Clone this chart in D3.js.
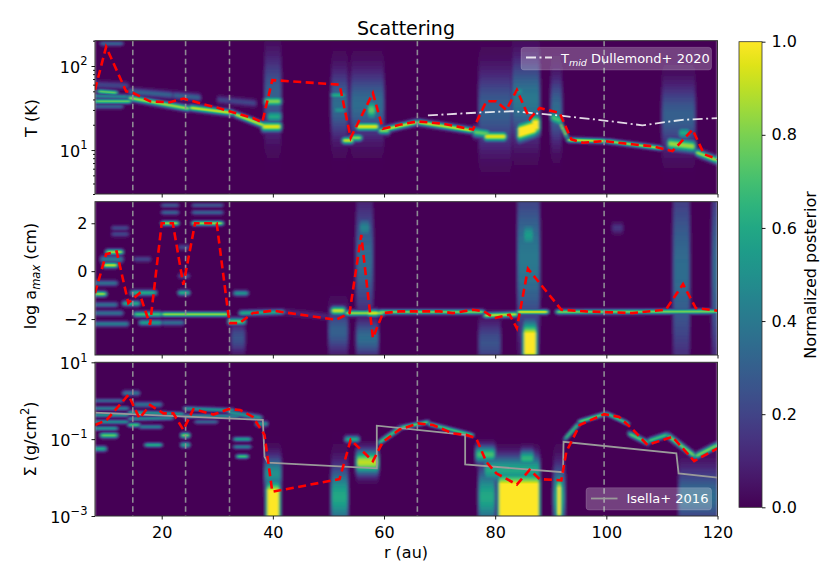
<!DOCTYPE html>
<html><head><meta charset="utf-8">
<script src="https://cdn.jsdelivr.net/npm/d3@7"></script>
<style>body{margin:0;background:#fff}svg{display:block}text{font-family:"DejaVu Sans",sans-serif;fill:#000}</style>
</head><body><svg id="c" width="830" height="581"></svg>
<script>
// ---------------- data ----------------
const xTicks = [20, 40, 60, 80, 100, 120];
const gapR = [14.8, 24.3, 32.2, 66, 99.6];               // vertical dashed lines (au)
const cbTicks = [0, 0.2, 0.4, 0.6, 0.8, 1.0];

// best-fit (red dashed) profiles
const tR = [8,10,13.6,14.8,17.9,21.5,23.9,26.9,29.9,32.9,36.4,38.1,39.9,52,54,58,59.8,62.8,66,70.6,76,78.4,80.2,82,83.9,86.2,88,91.6,93.7,95.8,99.6,104.7,108.3,111.9,115.5,117.6,120];
const tVal = [52,169,50,48,38,37,41,36,32,28,24,21.4,68,60,14,47.6,17.9,20,21.9,20.6,17.5,38,38,30,52,23.5,31.6,27.6,13.4,12.2,12.8,11.7,11.1,9.7,17.5,8.9,7.8];
const aR = [8,10,11.9,14,16,17.9,20,22,23.9,26,29.9,32,32.3,34,36.4,40,51.4,53.8,55.9,58,59.8,62.8,70,72.4,76,78,79.9,82.6,83.9,85.9,91.9,96.4,104.7,110.7,113.8,116.1,120];
const aVal = [-0.92,0.71,0.82,-1.33,-0.92,-2.24,2.0,2.0,-0.57,2.0,2.0,-1.82,-2.17,-2.17,-1.75,-1.65,-2.03,-1.75,1.51,-2.79,-1.75,-1.68,-1.68,-1.75,-1.61,-1.68,-1.96,-1.82,-2.38,0.1,-1.61,-1.68,-1.75,-1.61,-0.54,-1.54,-1.65];
const sR = [8,10.1,14,16,17.9,20.3,22.1,23.9,25.7,29.3,32,34.1,36.4,38.5,39.9,52,54,58,59.8,62.8,66.1,68.8,72.4,74.8,76.6,78.4,80.2,83.9,86.2,88,91.9,92.8,95.2,99.6,102.3,104.7,107.4,111.9,115.8,120];
const sVal = [0.233,0.316,1.41,0.347,0.776,0.468,0.468,0.174,0.603,0.437,0.603,0.575,0.380,0.129,0.00427,0.00912,0.0955,0.0269,0.0851,0.178,0.257,0.234,0.141,0.129,0.105,0.0257,0.0129,0.0066,0.0158,0.00912,0.00851,0.0468,0.234,0.447,0.380,0.182,0.0708,0.115,0.0269,0.0575];

// reference models
const dullR = [67.9,77.4,83.2,91.6,99.3,106.5,113.7,120];
const dullT = [25.9,28,29,25.7,22.6,19.7,22.9,24];
const isR = [8,38.2,38.5,39.1,58.7,58.7,74.6,74.6,92.2,92.3,112.6,113,120];
const isS = [0.49,0.316,0.0347,0.0245,0.0174,0.224,0.129,0.0219,0.0138,0.0851,0.0427,0.0129,0.01];

// posterior ridges: [r0, r1, centre0, centre1, spread, peak]  (peak > 1 = saturated plateau)
// T: centre in K, spread in dex
const tBlobs = [
 [8,14.5,38,38,0.02,0.75],[8.5,12,50,48,0.02,0.75],[8,14,44,43,0.02,0.45],[8,13,33,33,0.02,0.3],
 [9,13,185,185,0.02,0.3],[8,14,60,58,0.03,0.2],
 [14,25,42,31,0.025,0.85],[25,33,32,27.5,0.025,0.9],[33,38.5,27,19.5,0.025,0.9],
 [14,22,50,45,0.03,0.3],[22,27,45,42,0.03,0.3],[30,37,40,36,0.03,0.2],
 [38.5,41.5,45,45,0.3,0.3],[38.5,41.5,38,38,0.04,0.8],[38,41.5,19,19,0.04,0.95],[39,41.5,25,25,0.05,0.6],
 [50.5,53.5,35,35,0.25,0.35],[50.5,53,45,45,0.03,0.6],[51,53,30,30,0.04,0.5],[52.5,54.5,13,13,0.03,0.9],
 [54,60,35,35,0.25,0.35],[55,59,19,19,0.035,0.95],[57,58.5,30,30,0.08,0.75],[54,56,14,14,0.03,0.8],[59,61,17,17,0.03,0.8],
 [60,66,17.5,21.5,0.025,0.9],[66,76,21.5,17,0.025,0.9],
 [77,83,30,30,0.3,0.3],[78,82,14.5,14.5,0.04,0.95],[76,79,16.5,15.5,0.04,0.75],
 [83,88,40,40,0.3,0.4],[84,87.5,16,19,0.07,1.2],[86.5,88,20,20,0.08,1.1],[83.5,85,50,50,0.05,0.5],
 [90,92,30,30,0.25,0.35],[90,92,25,22,0.05,0.7],[91.5,93,22,14,0.03,0.9],
 [93,100,13.2,12.8,0.02,0.9],[100,110,12.8,10.5,0.02,0.85],
 [110,116,25,25,0.25,0.3],[111,116,12,11,0.05,0.85],[113,115,16,16,0.05,0.6],[116,120,9.5,7.5,0.03,0.85]
];
// log a_max: centre and spread in log10(cm)
const aBlobs = [
 [8,10,-0.95,-0.95,0.08,0.85],[9.5,12,0.25,0.25,0.08,0.9],[10,13,0.8,0.8,0.08,0.85],[9,13,0.5,0.5,0.1,0.4],
 [8,12,-0.5,-0.5,0.08,0.35],[8,12,-1.4,-1.4,0.08,0.35],[8,13,-1.75,-1.75,0.08,0.35],[8,14,-2.2,-2.2,0.08,0.4],
 [13,16,-1.35,-1.35,0.08,0.6],[11,14,1.8,1.8,0.08,0.2],[11,14,1.55,1.55,0.08,0.2],
 [14.5,19,-0.9,-0.9,0.08,0.6],[15,20,-1.8,-1.8,0.08,0.7],[16,20,-2.15,-2.15,0.08,0.55],[15,18,0.5,0.5,0.08,0.2],
 [20,23,2.0,2.0,0.07,0.85],[20,23,2.45,2.45,0.07,0.3],[20,23,2.75,2.75,0.07,0.25],
 [23,25,-0.9,-0.9,0.08,0.6],[23,25,-0.2,-0.2,0.08,0.2],[23,25,1.0,1.0,0.08,0.2],
 [20,32,-1.8,-1.8,0.07,0.85],[25.5,31,2.0,2.0,0.07,0.85],[25.5,31,2.45,2.45,0.07,0.3],[25.5,31,2.75,2.75,0.07,0.25],
 [20,24,-2.15,-2.15,0.08,0.35],[32,35,-2.1,-2.1,0.1,0.75],[33,35.5,-0.92,-0.92,0.08,0.5],[34,42,-1.75,-1.7,0.08,0.6],
 [32.5,35,-2.8,-2.8,0.4,0.25],[42,50,-1.7,-1.9,0.1,0.1],
 [50.5,53,-1.65,-1.65,0.12,0.9],[50,53.5,-2.5,-2.5,0.6,0.3],[53,60,-1.75,-1.75,0.08,0.85],
 [55,58,0.5,0.5,1.5,0.35],[55.5,57.5,1.8,1.8,0.3,0.45],[55,59,-2.8,-2.8,0.5,0.35],[57,59,-1.75,-1.75,0.1,0.95],
 [59,78,-1.7,-1.7,0.07,0.8],[78,84,-1.85,-1.8,0.08,0.9],[84,89.5,-1.7,-1.7,0.07,0.95],[91,120,-1.7,-1.68,0.07,0.8],
 [77,81,-3,-3,0.6,0.25],[84,88,0.5,0.5,2.0,0.4],[85,87,1.5,1.5,0.4,0.55],[85,87.5,-3.0,-3.0,0.55,1.3],
 [112,115,0,0,2.5,0.35],[119,120,0,0,2.5,0.35],[101,103,1.8,1.8,0.15,0.15]
];
// Sigma: centre in log10(g/cm^2), spread in dex
const sBlobs = [
 [8,10,-1.25,-1.25,0.05,0.6],[9,12,-0.9,-0.9,0.05,0.75],[8,12,-0.72,-0.72,0.04,0.5],[8,13,0,0,0.04,0.3],
 [8,14,-0.2,-0.2,0.04,0.4],[8,14,-0.37,-0.37,0.04,0.5],[8,14,-0.55,-0.55,0.04,0.45],[13,16,0.2,0.2,0.05,0.35],
 [14,16,-0.63,-0.63,0.04,0.7],[17,20,-1.15,-1.15,0.04,0.6],[14,24,-0.3,-0.35,0.04,0.5],[14,22,-0.47,-0.45,0.04,0.45],
 [15,20,-0.1,-0.1,0.05,0.35],[16,20,-0.68,-0.68,0.04,0.4],[23.5,25,-0.9,-0.9,0.05,0.8],[23.5,25,-1.15,-1.15,0.05,0.6],
 [24,33,-0.2,-0.25,0.04,0.5],[24,34,-0.4,-0.4,0.04,0.45],[26,30,-0.55,-0.55,0.04,0.3],[32,38,-0.3,-0.45,0.05,0.5],
 [37,39,-0.6,-0.6,0.05,0.5],[33,36,-1.0,-1.0,0.04,0.55],[33,36,-1.2,-1.2,0.04,0.4],[33.5,35.5,-1.45,-1.45,0.04,0.7],
 [38.8,41.3,-2.65,-2.65,0.35,1.5],[38.5,41.5,-1.9,-1.9,0.3,0.5],
 [50.5,53.5,-2.5,-2.5,0.5,0.6],[53,55.5,-1.0,-1.0,0.06,0.6],[55,59,-1.6,-1.6,0.2,0.9],
 [59,63,-1.1,-0.7,0.05,0.7],[63,68,-0.7,-0.55,0.04,0.75],[68,76,-0.6,-0.9,0.04,0.7],
 [76.5,80,-1.4,-1.4,0.15,0.7],[77,80,-2.5,-2.5,0.5,0.6],
 [80.5,88,-2.6,-2.6,0.45,1.6],[78,88,-1.8,-1.8,0.25,0.6],[84.5,87,-1.5,-1.5,0.15,0.65],
 [90.5,92.5,-2.5,-2.5,0.5,0.6],[91,92,-2.6,-2.6,0.4,1.4],
 [92.5,95,-1.0,-0.6,0.05,0.7],[95,100,-0.55,-0.33,0.04,0.75],[100,104,-0.33,-0.6,0.04,0.7],
 [104,107.5,-0.85,-1.1,0.05,0.75],[107.5,111,-1.05,-0.88,0.05,0.7],[111,116,-0.9,-1.45,0.06,0.8],
 [116,120,-1.45,-1.15,0.06,0.8],[113,120,-2.5,-2.5,0.5,0.35]
];

// ---------------- drawing ----------------
const svg = d3.select("#c");
const X0 = 95, X1 = 717.5;
const x = d3.scaleLinear([8, 120], [X0, X1]);
const lut = d3.range(256).map(i => d3.rgb(d3.interpolateViridis(i / 255)));

const panels = [
  {top: 40.7, bot: 194, y: d3.scaleLog([3, 200], [194, 40.7]), lo: Math.log10(3), hi: Math.log10(200), blobs: tBlobs, conv: v => Math.log10(v)},
  {top: 201.7, bot: 355, y: d3.scaleLinear([-3.5, 2.9], [355, 201.7]), lo: -3.5, hi: 2.9, blobs: aBlobs, conv: v => v},
  {top: 362.3, bot: 516, y: d3.scaleLog([1e-3, 10], [516, 362.3]), lo: -3, hi: 1, blobs: sBlobs, conv: v => v}
];

const clamp01 = v => Math.max(0, Math.min(1, v));
function heatURL(p) {
  const nx = 448, ny = 170, e = 0.7;
  const cv = document.createElement("canvas"); cv.width = nx; cv.height = ny;
  const ctx = cv.getContext("2d"); const img = ctx.createImageData(nx, ny);
  const bl = p.blobs.map(b => [b[0], b[1], p.conv(b[2]), p.conv(b[3]), b[4], b[5]]);
  for (let i = 0; i < nx; i++) {
    const r = 8 + (i + 0.5) * 112 / nx;
    for (let j = 0; j < ny; j++) {
      const v = p.hi - (j + 0.5) * (p.hi - p.lo) / ny;
      let m = 0;
      for (const b of bl) {
        if (r < b[0] - e / 2 || r > b[1] + e / 2) continue;
        const w = clamp01((r - b[0]) / e + 0.5) * clamp01((b[1] - r) / e + 0.5);
        const t = clamp01((r - b[0]) / (b[1] - b[0]));
        const c = b[2] * (1 - t) + b[3] * t;
        const z = (v - c) / b[4];
        const val = w * Math.min(1, b[5] * Math.exp(-0.5 * z * z));
        if (val > m) m = val;
      }
      const col = lut[Math.round(Math.min(1, m) * 255)];
      const k = 4 * (j * nx + i);
      img.data[k] = col.r; img.data[k + 1] = col.g; img.data[k + 2] = col.b; img.data[k + 3] = 255;
    }
  }
  ctx.putImageData(img, 0, 0);
  return cv.toDataURL();
}

const defs = svg.append("defs");
const flt = defs.append("filter").attr("id", "soft").attr("x", 0).attr("y", 0).attr("width", 1).attr("height", 1);
flt.append("feGaussianBlur").attr("stdDeviation", "0.9 0.5").attr("edgeMode", "duplicate");

panels.forEach((p, i) => {
  defs.append("clipPath").attr("id", "clip" + i).append("rect")
    .attr("x", X0).attr("y", p.top).attr("width", X1 - X0).attr("height", p.bot - p.top);
  svg.append("image").attr("href", heatURL(p)).attr("x", X0).attr("y", p.top)
    .attr("width", X1 - X0).attr("height", p.bot - p.top).attr("preserveAspectRatio", "none")
    .attr("filter", "url(#soft)");
  const g = svg.append("g").attr("clip-path", `url(#clip${i})`);
  g.selectAll("line.gap").data(gapR).join("line")
    .attr("x1", d => x(d)).attr("x2", d => x(d)).attr("y1", p.top).attr("y2", p.bot)
    .attr("stroke", "#8e8a94").attr("stroke-width", 1.6).attr("stroke-dasharray", "5.5,3.5");
  p.g = g;
});

const line = (y) => d3.line().x(d => x(d[0])).y(d => y(d[1]));

// reference models
panels[0].g.append("path").datum(d3.zip(dullR, dullT)).attr("d", line(panels[0].y))
  .attr("fill", "none").attr("stroke", "#ffffff").attr("stroke-opacity", 0.85).attr("stroke-width", 1.8)
  .attr("stroke-dasharray", "10,3.5,2,3.5");
panels[2].g.append("path").datum(d3.zip(isR, isS)).attr("d", line(panels[2].y))
  .attr("fill", "none").attr("stroke", "#9a9a9a").attr("stroke-width", 1.8);

// best fit profiles
[[tR, tVal], [aR, aVal], [sR, sVal]].forEach((s, i) => {
  panels[i].g.append("path").datum(d3.zip(s[0], s[1])).attr("d", line(panels[i].y))
    .attr("fill", "none").attr("stroke", "#ff0000").attr("stroke-width", 2.6).attr("stroke-dasharray", "8,4.5");
});

// frames + x axes
panels.forEach((p, i) => {
  svg.append("rect").attr("x", X0).attr("y", p.top).attr("width", X1 - X0).attr("height", p.bot - p.top)
    .attr("fill", "none").attr("stroke", "#333").attr("stroke-width", 1);
  const ax = svg.append("g").attr("transform", `translate(0,${p.bot})`)
    .call(d3.axisBottom(x).tickValues(xTicks).tickSize(3.5).tickPadding(7)
      .tickFormat(i === 2 ? d3.format("d") : () => ""));
  ax.select(".domain").remove();
  ax.attr("font-family", "DejaVu Sans").attr("font-size", 16);
  ax.selectAll("line").attr("stroke", "#000").attr("stroke-width", 0.9);
});

function leftAxis(p, vals, size) {
  const ax = svg.append("g").attr("transform", `translate(${X0},0)`)
    .call(d3.axisLeft(p.y).tickValues(vals).tickSize(size).tickFormat(() => ""));
  ax.select(".domain").remove();
  ax.selectAll("line").attr("stroke", "#000").attr("stroke-width", 0.9);
  return ax;
}
function powLabel(yv, exp) {
  const t = svg.append("text").attr("x", 87.5).attr("y", yv).attr("dy", "0.42em")
    .attr("text-anchor", "end").attr("font-size", 16);
  t.append("tspan").text("10");
  t.append("tspan").attr("dy", -7.5).attr("font-size", 11.5).text(exp);
}
// T axis
leftAxis(panels[0], [10, 100], 3.5);
leftAxis(panels[0], [3,4,5,6,7,8,9,20,30,40,50,60,70,80,90,200], 2);
powLabel(panels[0].y(10), "1"); powLabel(panels[0].y(100), "2");
// a_max axis
const aTicks = [-2, 0, 2];
leftAxis(panels[1], aTicks, 3.5);
aTicks.forEach(v => svg.append("text").attr("x", 87.5).attr("y", panels[1].y(v)).attr("dy", "0.36em")
  .attr("text-anchor", "end").attr("font-size", 16).text(d3.format("d")(v).replace("-", "\u2212")));
// Sigma axis
const sTicks = [1e-3, 1e-1, 10];
leftAxis(panels[2], sTicks, 3.5);
powLabel(panels[2].y(1e-3), "\u22123"); powLabel(panels[2].y(1e-1), "\u22121"); powLabel(panels[2].y(10), "1");

// axis labels
svg.append("text").attr("transform", "translate(37,118) rotate(-90)").attr("text-anchor", "middle")
  .attr("font-size", 16).text("T (K)");
{
  const t = svg.append("text").attr("transform", "translate(36,276) rotate(-90)").attr("text-anchor", "middle").attr("font-size", 16);
  t.append("tspan").text("log a");
  t.append("tspan").attr("dy", 4).attr("font-size", 11.5).attr("font-style", "italic").text("max");
  t.append("tspan").attr("dy", -4).text(" (cm)");
}
{
  const t = svg.append("text").attr("transform", "translate(36,439) rotate(-90)").attr("text-anchor", "middle").attr("font-size", 16);
  t.append("tspan").text("\u03A3 (g/cm");
  t.append("tspan").attr("dy", -7).attr("font-size", 11.5).text("2");
  t.append("tspan").attr("dy", 7).text(")");
}
svg.append("text").attr("x", 406).attr("y", 558).attr("text-anchor", "middle").attr("font-size", 16).text("r (au)");
svg.append("text").attr("x", 406).attr("y", 35).attr("text-anchor", "middle").attr("font-size", 19).text("Scattering");

// legends
{
  svg.append("rect").attr("x", 521).attr("y", 47.3).attr("width", 190.5).attr("height", 22.7).attr("rx", 3)
    .attr("fill", "#fff").attr("fill-opacity", 0.25).attr("stroke", "#fff").attr("stroke-opacity", 0.15);
  svg.append("line").attr("x1", 526).attr("x2", 552).attr("y1", 57.5).attr("y2", 57.5)
    .attr("stroke", "#fff").attr("stroke-opacity", 0.85).attr("stroke-width", 1.8).attr("stroke-dasharray", "10,3.5,2,3.5");
  const t = svg.append("text").attr("x", 561).attr("y", 62.5).attr("font-size", 13).style("fill", "#fff");
  t.append("tspan").text("T");
  t.append("tspan").attr("dy", 3).attr("font-size", 9.5).attr("font-style", "italic").text("mid");
  t.append("tspan").attr("dy", -3).text(" Dullemond+ 2020");
}
{
  svg.append("rect").attr("x", 586).attr("y", 487.7).attr("width", 125.5).attr("height", 22.3).attr("rx", 3)
    .attr("fill", "#fff").attr("fill-opacity", 0.25).attr("stroke", "#fff").attr("stroke-opacity", 0.15);
  svg.append("line").attr("x1", 591).attr("x2", 617.5).attr("y1", 498.5).attr("y2", 498.5)
    .attr("stroke", "#9a9a9a").attr("stroke-width", 1.8);
  svg.append("text").attr("x", 626.5).attr("y", 503).attr("font-size", 13).style("fill", "#fff").text("Isella+ 2016");
}

// colorbar
const cbTop = 41.7, cbBot = 507.3, cbX = 739, cbW = 23;
const grad = defs.append("linearGradient").attr("id", "vir").attr("x1", 0).attr("y1", 1).attr("x2", 0).attr("y2", 0);
d3.range(0, 1.0001, 0.05).forEach(t => grad.append("stop").attr("offset", t).attr("stop-color", d3.interpolateViridis(t)));
svg.append("rect").attr("x", cbX).attr("y", cbTop).attr("width", cbW).attr("height", cbBot - cbTop)
  .attr("fill", "url(#vir)").attr("stroke", "#333").attr("stroke-width", 0.8);
const yc = d3.scaleLinear([0, 1], [cbBot, cbTop]);
const cax = svg.append("g").attr("transform", `translate(${cbX + cbW},0)`)
  .call(d3.axisRight(yc).tickValues(cbTicks).tickSize(3.5).tickPadding(6).tickFormat(d3.format(".1f")));
cax.select(".domain").remove();
cax.attr("font-family", "DejaVu Sans").attr("font-size", 16);
cax.selectAll("line").attr("stroke", "#000").attr("stroke-width", 0.9);
svg.append("text").attr("transform", "translate(816,275) rotate(-90)").attr("text-anchor", "middle")
  .attr("font-size", 16).text("Normalized posterior");
</script></body></html>
